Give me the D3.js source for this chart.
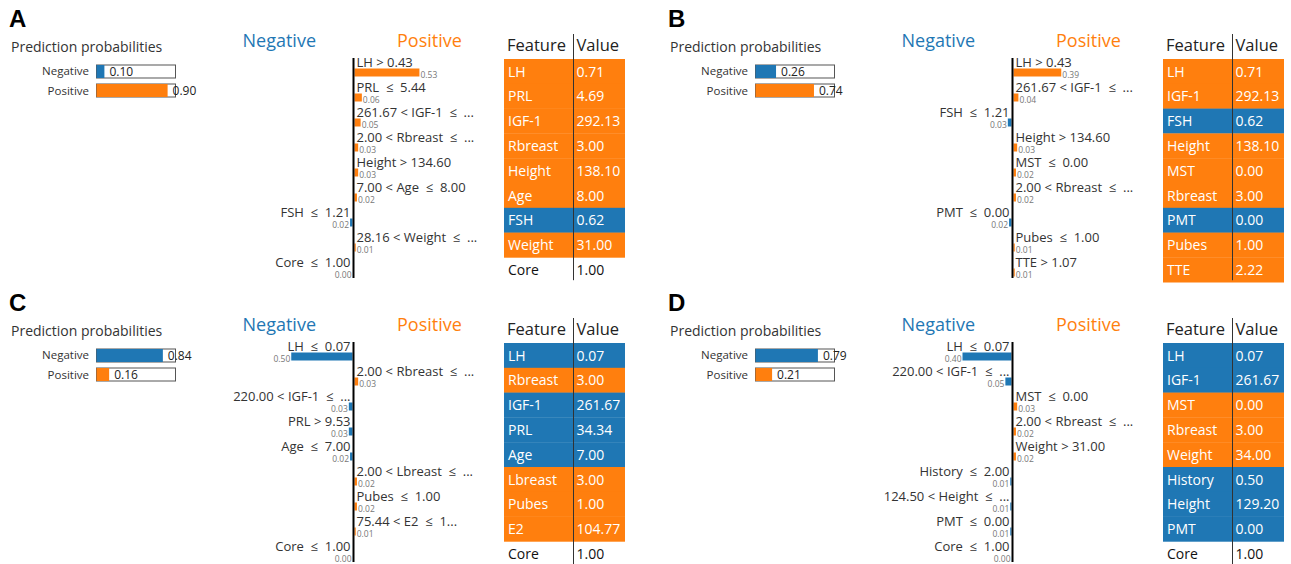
<!DOCTYPE html>
<html>
<head>
<meta charset="utf-8">
<script src="https://cdn.jsdelivr.net/npm/d3@7"></script>
<style>
  html, body { margin: 0; padding: 0; background: #fff; }
  svg { display: block; }
  text { font-family: "Open Sans", "Noto Sans", sans-serif; white-space: pre; }
</style>
</head>
<body>
<svg id="chart" width="1291" height="564"></svg>
<script>
// ---- Data -------------------------------------------------------------
const panelLetters = ["A", "B", "C", "D"];
const classNames = ["Negative", "Positive"];

// predicted class probabilities per case
const probNegative = [0.10, 0.26, 0.84, 0.79];
const probPositive = [0.90, 0.74, 0.16, 0.21];

// LIME rules and weights (negative weights push towards "Negative";
// a zero weight written as -0.00 sits on the negative side)
const rulesA = ["LH > 0.43", "PRL  \u2264  5.44", "261.67 < IGF-1  \u2264  ...", "2.00 < Rbreast  \u2264  ...",
  "Height > 134.60", "7.00 < Age  \u2264  8.00", "FSH  \u2264  1.21", "28.16 < Weight  \u2264  ...", "Core  \u2264  1.00"];
const weightsA = [0.53, 0.06, 0.05, 0.03, 0.03, 0.02, -0.02, 0.01, -0.00];
const featuresA = ["LH", "PRL", "IGF-1", "Rbreast", "Height", "Age", "FSH", "Weight", "Core"];
const valuesA = ["0.71", "4.69", "292.13", "3.00", "138.10", "8.00", "0.62", "31.00", "1.00"];

const rulesB = ["LH > 0.43", "261.67 < IGF-1  \u2264  ...", "FSH  \u2264  1.21", "Height > 134.60", "MST  \u2264  0.00",
  "2.00 < Rbreast  \u2264  ...", "PMT  \u2264  0.00", "Pubes  \u2264  1.00", "TTE > 1.07"];
const weightsB = [0.39, 0.04, -0.03, 0.03, 0.02, 0.02, -0.02, 0.01, 0.01];
const featuresB = ["LH", "IGF-1", "FSH", "Height", "MST", "Rbreast", "PMT", "Pubes", "TTE"];
const valuesB = ["0.71", "292.13", "0.62", "138.10", "0.00", "3.00", "0.00", "1.00", "2.22"];

const rulesC = ["LH  \u2264  0.07", "2.00 < Rbreast  \u2264  ...", "220.00 < IGF-1  \u2264  ...", "PRL > 9.53", "Age  \u2264  7.00",
  "2.00 < Lbreast  \u2264  ...", "Pubes  \u2264  1.00", "75.44 < E2  \u2264  1...", "Core  \u2264  1.00"];
const weightsC = [-0.50, 0.03, -0.03, -0.03, -0.02, 0.02, 0.02, 0.01, -0.00];
const featuresC = ["LH", "Rbreast", "IGF-1", "PRL", "Age", "Lbreast", "Pubes", "E2", "Core"];
const valuesC = ["0.07", "3.00", "261.67", "34.34", "7.00", "3.00", "1.00", "104.77", "1.00"];

const rulesD = ["LH  \u2264  0.07", "220.00 < IGF-1  \u2264  ...", "MST  \u2264  0.00", "2.00 < Rbreast  \u2264  ...", "Weight > 31.00",
  "History  \u2264  2.00", "124.50 < Height  \u2264  ...", "PMT  \u2264  0.00", "Core  \u2264  1.00"];
const weightsD = [-0.40, -0.05, 0.03, 0.02, 0.02, -0.01, -0.01, -0.01, -0.00];
const featuresD = ["LH", "IGF-1", "MST", "Rbreast", "Weight", "History", "Height", "PMT", "Core"];
const valuesD = ["0.07", "261.67", "0.00", "3.00", "34.00", "0.50", "129.20", "0.00", "1.00"];

// ---- Drawing ----------------------------------------------------------
const BLUE = "#1f77b4", ORANGE = "#ff7f0e";
const isNeg = w => w < 0 || Object.is(w, -0);

const panels = [
  { letter: panelLetters[0], neg: probNegative[0], pos: probPositive[0], rules: rulesA, weights: weightsA, features: featuresA, values: valuesA, dx: 0,   dy: 0 },
  { letter: panelLetters[1], neg: probNegative[1], pos: probPositive[1], rules: rulesB, weights: weightsB, features: featuresB, values: valuesB, dx: 659, dy: 0 },
  { letter: panelLetters[2], neg: probNegative[2], pos: probPositive[2], rules: rulesC, weights: weightsC, features: featuresC, values: valuesC, dx: 0,   dy: 284 },
  { letter: panelLetters[3], neg: probNegative[3], pos: probPositive[3], rules: rulesD, weights: weightsD, features: featuresD, values: valuesD, dx: 659, dy: 284 }
];

const svg = d3.select("#chart");

// probability bars: 79px box
const probX = d3.scaleLinear().domain([0, 1]).range([0, 79]);
// explanation bars: shared length scale
const barLen = d3.scaleLinear().domain([0, 1]).range([0, 122.5]);

panels.forEach(p => {
  const g = svg.append("g").attr("transform", `translate(${p.dx},${p.dy})`);

  // panel letter
  g.append("text").attr("x", 9).attr("y", 27)
    .style("font-family", "'Liberation Sans', Arial, sans-serif")
    .attr("font-size", 24).attr("font-weight", "bold").attr("fill", "#000").text(p.letter);

  // ---- prediction probabilities ----
  g.append("text").attr("x", 11).attr("y", 52).attr("font-size", 14).attr("fill", "#333")
    .text("Prediction probabilities");

  const probs = [p.neg, p.pos];
  const probY = d3.scaleBand().domain(classNames).range([65, 97]).paddingInner(0.316).paddingOuter(0);
  const boxX = 96.5;
  const pg = g.append("g");
  classNames.forEach((c, i) => {
    const y = probY(c), h = probY.bandwidth();
    pg.append("text").attr("x", 89).attr("y", y + h / 2 + 4).attr("text-anchor", "end")
      .attr("font-size", 11.5).attr("fill", "#333").text(c);
    pg.append("rect").attr("x", boxX).attr("y", y).attr("width", probX(1)).attr("height", h)
      .attr("fill", "#fff").attr("stroke", "#555").attr("stroke-width", 1);
    pg.append("rect").attr("x", boxX).attr("y", y).attr("width", probX(probs[i])).attr("height", h)
      .attr("fill", i === 0 ? BLUE : ORANGE);
    pg.append("text").attr("x", boxX + probX(probs[i]) + 5).attr("y", y + h / 2 + 4.5)
      .attr("font-size", 12).attr("fill", "#222").text(probs[i].toFixed(2));
  });

  // ---- explanation ----
  const axisX = 353.5;
  const n = p.rules.length;
  const rowY = d3.scaleLinear().domain([0, 1]).range([58, 83]); // 25px per row

  g.append("text").attr("x", 316).attr("y", 47).attr("text-anchor", "end")
    .attr("font-size", 18).attr("fill", BLUE).text("Negative");
  g.append("text").attr("x", 397).attr("y", 47).attr("text-anchor", "start")
    .attr("font-size", 18).attr("fill", ORANGE).text("Positive");

  const rows = g.append("g").selectAll("g").data(p.rules.map((r, i) => ({ r, w: p.weights[i], i })))
    .join("g").attr("transform", d => `translate(0,${rowY(d.i)})`);

  rows.append("text")
    .attr("x", d => isNeg(d.w) ? axisX - 3 : axisX + 3)
    .attr("y", 8.5)
    .attr("text-anchor", d => isNeg(d.w) ? "end" : "start")
    .attr("font-size", 13).attr("fill", "#333").text(d => d.r);

  rows.append("rect")
    .attr("x", d => isNeg(d.w) ? axisX - 1 - barLen(Math.abs(d.w)) : axisX + 1)
    .attr("y", 10.5).attr("height", 8)
    .attr("width", d => barLen(Math.abs(d.w)))
    .attr("fill", d => isNeg(d.w) ? BLUE : ORANGE);

  rows.append("text")
    .attr("x", d => isNeg(d.w) ? axisX - 2 - barLen(Math.abs(d.w)) : axisX + 2 + barLen(Math.abs(d.w)))
    .attr("y", 19.5)
    .attr("text-anchor", d => isNeg(d.w) ? "end" : "start")
    .attr("font-size", 8.5).attr("fill", "#777").text(d => Math.abs(d.w).toFixed(2));

  g.append("line").attr("x1", axisX).attr("x2", axisX)
    .attr("y1", rowY(0)).attr("y2", rowY(n) - 5)
    .attr("stroke", "#000").attr("stroke-width", 2);

  // ---- feature/value table ----
  const tLeft = 504, tDiv = 573.5, tRight = 625;
  const tRow = d3.scaleLinear().domain([0, 1]).range([59, 83.8]);
  g.append("text").attr("x", 507).attr("y", 51).attr("font-size", 16.5).attr("fill", "#222").text("Feature");
  g.append("text").attr("x", tDiv + 3).attr("y", 51).attr("font-size", 16.5).attr("fill", "#222").text("Value");

  const trs = g.append("g").selectAll("g").data(p.features.map((f, i) => ({ f, v: p.values[i], w: p.weights[i], i })))
    .join("g").attr("transform", d => `translate(0,${tRow(d.i)})`);
  const fillOf = d => d.w > 0 ? ORANGE : (d.w < 0 ? BLUE : null);
  trs.filter(d => fillOf(d)).append("rect")
    .attr("x", tLeft).attr("y", 0).attr("width", tRight - tLeft).attr("height", tRow(1) - tRow(0) + 0.3)
    .attr("fill", fillOf);
  trs.append("text").attr("x", tLeft + 4).attr("y", 17.5).attr("font-size", 14)
    .attr("fill", d => fillOf(d) ? "#fff" : "#111").text(d => d.f);
  trs.append("text").attr("x", tDiv + 3).attr("y", 17.5).attr("font-size", 14)
    .attr("fill", d => fillOf(d) ? "#fff" : "#111").text(d => d.v);

  g.append("line").attr("x1", tDiv).attr("x2", tDiv)
    .attr("y1", 34).attr("y2", tRow(p.features.length) - 2)
    .attr("stroke", "#333").attr("stroke-width", 1);
});
</script>
</body>
</html>
